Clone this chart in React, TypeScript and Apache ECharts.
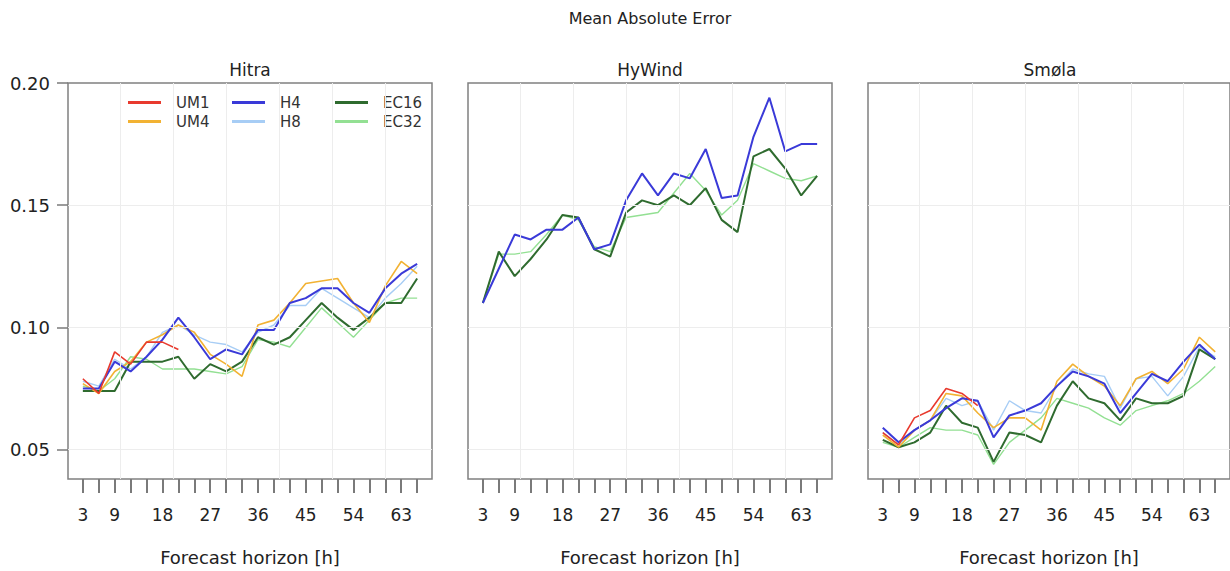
import React, { useEffect, useRef } from "react";
import * as echarts from "echarts";

// Forecast horizons (hours)
const hours = [3, 6, 9, 12, 15, 18, 21, 24, 27, 30, 33, 36, 39, 42, 45, 48, 51, 54, 57, 60, 63, 66];
const labelHours = [3, 9, 18, 27, 36, 45, 54, 63];
const gridHours = [10, 20, 30, 40, 50, 60];
const yTicks = [0.05, 0.1, 0.15, 0.2];
const yGrid = [0.05, 0.1, 0.15];

const panels = ["Hitra", "HyWind", "Smøla"];

// Hitra
const hitraUM1 = [0.079, 0.073, 0.090, 0.085, 0.094, 0.094, 0.091];
const hitraUM4 = [0.077, 0.073, 0.082, 0.086, 0.094, 0.097, 0.101, 0.098, 0.089, 0.085, 0.080, 0.101, 0.103, 0.110, 0.118, 0.119, 0.120, 0.110, 0.102, 0.117, 0.127, 0.122];
const hitraH4 = [0.075, 0.075, 0.086, 0.082, 0.088, 0.095, 0.104, 0.096, 0.087, 0.091, 0.089, 0.099, 0.099, 0.110, 0.112, 0.116, 0.116, 0.110, 0.106, 0.116, 0.122, 0.126];
const hitraH8 = [0.078, 0.076, 0.087, 0.083, 0.088, 0.098, 0.101, 0.097, 0.094, 0.093, 0.090, 0.098, 0.101, 0.109, 0.109, 0.116, 0.112, 0.108, 0.104, 0.112, 0.118, 0.125];
const hitraEC16 = [0.074, 0.074, 0.074, 0.086, 0.086, 0.086, 0.088, 0.079, 0.085, 0.082, 0.086, 0.096, 0.093, 0.096, 0.103, 0.110, 0.104, 0.099, 0.104, 0.110, 0.110, 0.120];
const hitraEC32 = [0.076, 0.074, 0.079, 0.088, 0.087, 0.083, 0.083, 0.083, 0.082, 0.081, 0.084, 0.095, 0.094, 0.092, 0.100, 0.108, 0.102, 0.096, 0.103, 0.110, 0.112, 0.112];

// HyWind
const hywindH4 = [0.110, 0.124, 0.138, 0.136, 0.140, 0.140, 0.145, 0.132, 0.134, 0.152, 0.163, 0.154, 0.163, 0.161, 0.173, 0.153, 0.154, 0.178, 0.194, 0.172, 0.175, 0.175];
const hywindEC16 = [0.110, 0.131, 0.121, 0.128, 0.136, 0.146, 0.145, 0.132, 0.129, 0.147, 0.152, 0.150, 0.154, 0.150, 0.157, 0.144, 0.139, 0.170, 0.173, 0.165, 0.154, 0.162];
const hywindEC32 = [0.110, 0.130, 0.130, 0.131, 0.138, 0.146, 0.144, 0.133, 0.131, 0.145, 0.146, 0.147, 0.155, 0.163, 0.156, 0.146, 0.152, 0.167, 0.164, 0.161, 0.160, 0.162];

// Smøla
const smolaUM1 = [0.057, 0.052, 0.063, 0.066, 0.075, 0.073, 0.068];
const smolaUM4 = [0.056, 0.051, 0.058, 0.062, 0.073, 0.072, 0.065, 0.059, 0.063, 0.063, 0.058, 0.078, 0.085, 0.080, 0.076, 0.068, 0.079, 0.082, 0.077, 0.083, 0.096, 0.090];
const smolaH4 = [0.059, 0.053, 0.058, 0.062, 0.067, 0.071, 0.070, 0.055, 0.064, 0.066, 0.069, 0.076, 0.082, 0.080, 0.077, 0.065, 0.073, 0.081, 0.078, 0.086, 0.093, 0.087];
const smolaH8 = [0.057, 0.052, 0.058, 0.062, 0.071, 0.068, 0.070, 0.058, 0.070, 0.066, 0.065, 0.076, 0.083, 0.081, 0.080, 0.067, 0.079, 0.080, 0.072, 0.080, 0.092, 0.088];
const smolaEC16 = [0.054, 0.051, 0.053, 0.057, 0.068, 0.061, 0.059, 0.045, 0.057, 0.056, 0.053, 0.068, 0.078, 0.071, 0.069, 0.062, 0.071, 0.069, 0.069, 0.072, 0.091, 0.087];
const smolaEC32 = [0.053, 0.051, 0.055, 0.059, 0.058, 0.058, 0.056, 0.044, 0.053, 0.058, 0.063, 0.071, 0.069, 0.067, 0.063, 0.060, 0.066, 0.068, 0.070, 0.073, 0.078, 0.084];

const COLORS: Record<string, string> = {
  UM1: "#e83a2e",
  UM4: "#f2b233",
  H4: "#3a3ad8",
  H8: "#a7cdf5",
  EC16: "#2f6b2f",
  EC32: "#93e093",
};
const WIDTHS: Record<string, number> = { UM1: 1.6, UM4: 1.6, H4: 2, H8: 1.4, EC16: 2, EC32: 1.4 };

const panelSeries: { name: string; values: number[] }[][] = [
  [
    { name: "EC32", values: hitraEC32 },
    { name: "H8", values: hitraH8 },
    { name: "EC16", values: hitraEC16 },
    { name: "UM4", values: hitraUM4 },
    { name: "H4", values: hitraH4 },
    { name: "UM1", values: hitraUM1 },
  ],
  [
    { name: "EC32", values: hywindEC32 },
    { name: "EC16", values: hywindEC16 },
    { name: "H4", values: hywindH4 },
  ],
  [
    { name: "EC32", values: smolaEC32 },
    { name: "H8", values: smolaH8 },
    { name: "EC16", values: smolaEC16 },
    { name: "UM4", values: smolaUM4 },
    { name: "H4", values: smolaH4 },
    { name: "UM1", values: smolaUM1 },
  ],
];

const FONT = "DejaVu Sans";
const PANEL_LEFT = [68, 468, 868];
const PANEL_W = 364;
const PANEL_TOP = 83;
const PANEL_H = 404;

export default function App() {
  const ref = useRef<HTMLDivElement>(null);
  useEffect(() => {
    if (!ref.current) return;
    const chart = echarts.init(ref.current, undefined, { renderer: "svg" });

    const grids = panels.map((_, i) => ({
      left: PANEL_LEFT[i],
      top: PANEL_TOP,
      width: PANEL_W,
      height: PANEL_H,
      show: true,
      borderColor: "#808080",
      borderWidth: 1.5,
      backgroundColor: "transparent",
    }));

    const xAxes = panels.map((_, i) => ({
      gridIndex: i,
      type: "value",
      min: 0.2,
      max: 68.8,
      axisLine: { show: false },
      axisTick: {
        show: true,
        customValues: hours,
        length: 14,
        inside: false,
        lineStyle: { color: "#7a7a7a", width: 2 },
      },
      axisLabel: {
        customValues: labelHours,
        margin: 27,
        fontSize: 17,
        fontFamily: FONT,
        color: "#222",
      },
      splitLine: { show: false },
      name: "Forecast horizon [h]",
      nameLocation: "middle",
      nameGap: 69,
      nameTextStyle: { fontSize: 18, fontFamily: FONT, color: "#222" },
    }));

    const yAxes = panels.map((_, i) => ({
      gridIndex: i,
      type: "value",
      min: 0.038,
      max: 0.2,
      axisLine: { show: false },
      axisTick: {
        show: i === 0,
        customValues: yTicks,
        length: 11,
        inside: false,
        lineStyle: { color: "#7a7a7a", width: 1.5 },
      },
      axisLabel: {
        show: i === 0,
        customValues: yTicks,
        margin: 18,
        fontSize: 18,
        fontFamily: FONT,
        color: "#222",
        formatter: (v: number) => v.toFixed(2),
      },
      splitLine: { show: false },
    }));

    const series: any[] = [];
    panels.forEach((_, i) => {
      series.push({
        type: "line",
        name: "__grid" + i,
        xAxisIndex: i,
        yAxisIndex: i,
        data: [],
        z: 0,
        silent: true,
        markLine: {
          silent: true,
          symbol: "none",
          animation: false,
          label: { show: false },
          lineStyle: { color: "#ededed", type: "solid", width: 1 },
          data: [
            ...gridHours.map((h) => ({ xAxis: h })),
            ...yGrid.map((y) => ({ yAxis: y })),
          ],
        },
      });
      panelSeries[i].forEach((s) => {
        series.push({
          type: "line",
          name: s.name,
          xAxisIndex: i,
          yAxisIndex: i,
          symbol: "none",
          z: 2,
          data: s.values.map((v, k) => [hours[k], v]),
          lineStyle: { color: COLORS[s.name], width: WIDTHS[s.name] },
          itemStyle: { color: COLORS[s.name] },
        });
      });
    });

    const legendCols = [
      { left: 128, data: ["UM1", "UM4"] },
      { left: 232, data: ["H4", "H8"] },
      { left: 335, data: ["EC16", "EC32"] },
    ];
    const legends = legendCols.map((c) => ({
      left: c.left,
      top: 94,
      orient: "vertical",
      data: c.data,
      icon: "rect",
      itemWidth: 33,
      itemHeight: 3,
      itemGap: 2,
      padding: 0,
      textStyle: {
        fontSize: 15,
        fontFamily: FONT,
        color: "#333",
        lineHeight: 17,
        padding: [0, 0, 0, 10],
      },
    }));

    const graphics: any[] = [
      {
        type: "text",
        x: 650,
        y: 18,
        style: {
          text: "Mean Absolute Error",
          align: "center",
          verticalAlign: "middle",
          textAlign: "center",
          textVerticalAlign: "middle",
          fontSize: 16,
          fontFamily: FONT,
          fill: "#222",
        },
      },
      ...panels.map((p, i) => ({
        type: "text",
        x: PANEL_LEFT[i] + PANEL_W / 2,
        y: 70,
        style: {
          text: p,
          align: "center",
          verticalAlign: "middle",
          textAlign: "center",
          textVerticalAlign: "middle",
          fontSize: 17,
          fontFamily: FONT,
          fill: "#222",
        },
      })),
    ];

    chart.setOption({
      animation: false,
      backgroundColor: "#ffffff",
      grid: grids,
      xAxis: xAxes,
      yAxis: yAxes,
      legend: legends,
      series,
      graphic: graphics,
    });
    return () => chart.dispose();
  }, []);

  return (
    <div
      ref={ref}
      style={{ position: "absolute", left: 0, top: 0, width: 1230, height: 571 }}
    />
  );
}
